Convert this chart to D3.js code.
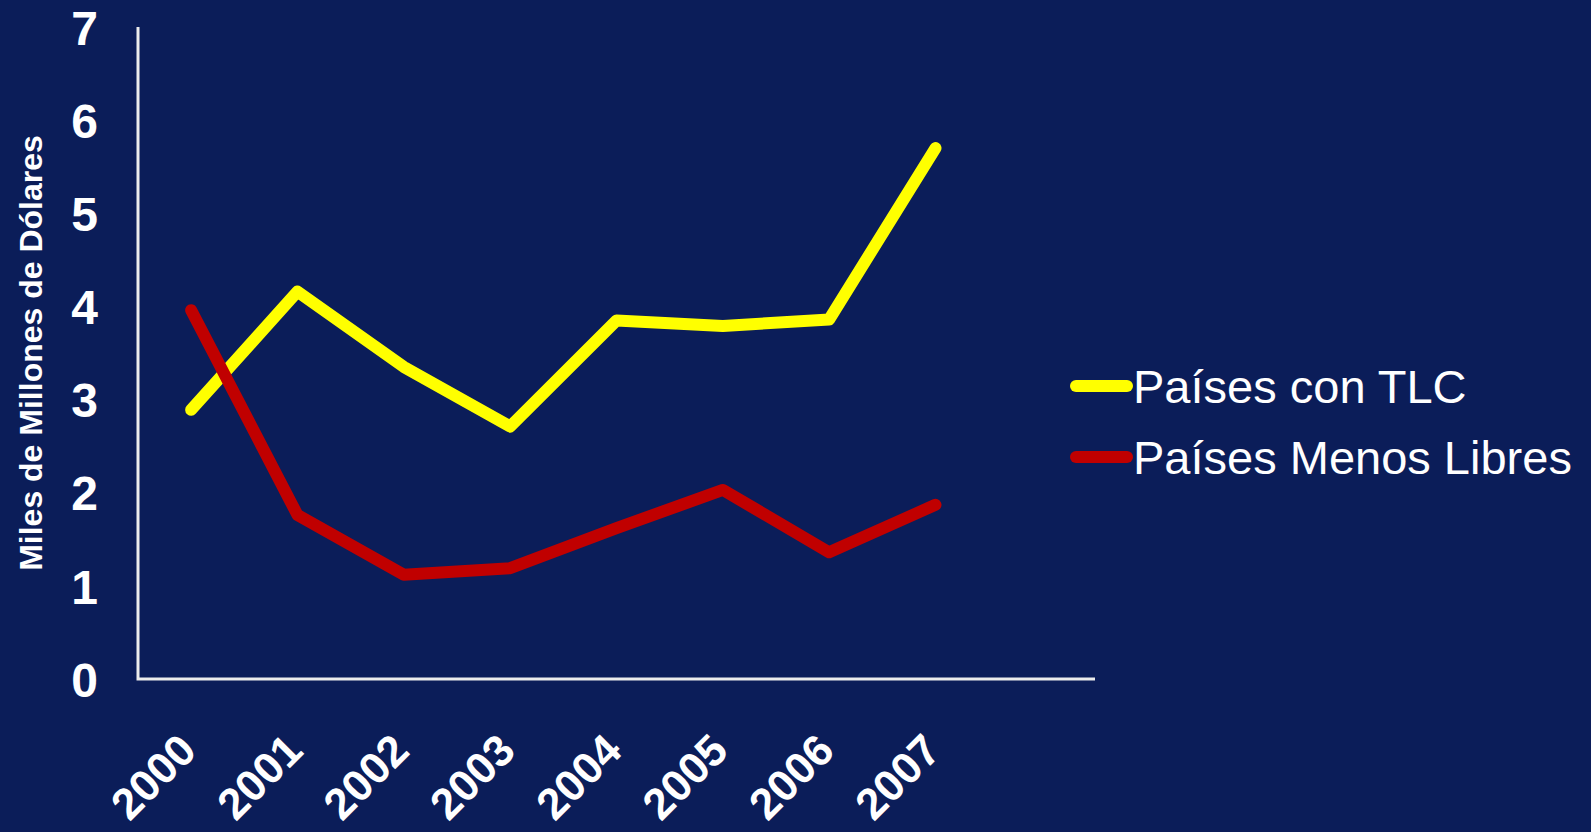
<!DOCTYPE html>
<html>
<head>
    <title>Países con TLC vs Países Menos Libres</title>
    <script src="https://d3js.org/d3.v7.min.js"></script>
    <style>
        body { margin: 0; background: #0b1d59; }
        svg { display: block; }
        text { font-family: "Liberation Sans", Arial, sans-serif; fill: #fff; }
    </style>
</head>
<body>
    <div id="chart"></div>

    <script>
        // Data
        const years = ["2000", "2001", "2002", "2003", "2004", "2005", "2006", "2007"];
        const paisesTLC = [2.89, 4.16, 3.35, 2.71, 3.85, 3.79, 3.86, 5.70];
        const paisesMenosLibres = [3.96, 1.76, 1.12, 1.19, 1.62, 2.03, 1.36, 1.87];
        const yTicks = [0, 1, 2, 3, 4, 5, 6, 7];
        const seriesNames = ["Países con TLC", "Países Menos Libres"];
        const seriesColors = ["#ffff00", "#c00000"];

        const width = 1591;
        const height = 832;
        const plotLeft = 138, plotRight = 1095, plotTop = 27, plotBottom = 679;

        const svg = d3.select("#chart")
            .append("svg")
            .attr("width", width)
            .attr("height", height);

        svg.append("rect")
            .attr("width", width)
            .attr("height", height)
            .attr("fill", "#0b1d59");

        // Scales (plot area holds 9 slots, 8 used)
        const step = (plotRight - plotLeft) / 9;
        const x = d3.scalePoint()
            .domain(years)
            .range([plotLeft + step / 2, plotLeft + step * 7.5]);

        const y = d3.scaleLinear()
            .domain([0, 7])
            .range([plotBottom, plotTop]);

        // Y axis
        const yAxis = svg.append("g")
            .attr("transform", "translate(" + plotLeft + ",0)")
            .call(d3.axisLeft(y).tickValues(yTicks).tickSize(0).tickPadding(40).tickFormat(d3.format("d")));
        yAxis.select(".domain").remove();
        yAxis.selectAll("text")
            .style("font-size", "48px")
            .style("font-weight", "bold")
            .attr("fill", "#fff")
            .attr("dy", "0.36em");

        // X axis labels
        const xAxis = svg.append("g")
            .attr("transform", "translate(0," + plotBottom + ")")
            .call(d3.axisBottom(x).tickSize(0));
        xAxis.select(".domain").remove();
        xAxis.selectAll("text")
            .attr("x", 0)
            .attr("y", 0)
            .attr("dy", 0)
            .attr("text-anchor", "end")
            .attr("transform", "translate(7,74) rotate(-45)")
            .attr("fill", "#fff")
            .style("font-size", "44px")
            .style("font-weight", "bold");

        // Axis lines
        svg.append("path")
            .attr("d", "M" + plotLeft + "," + plotTop + "V" + plotBottom + "H" + plotRight)
            .attr("fill", "none")
            .attr("stroke", "#ececec")
            .attr("stroke-width", 3);

        // Y axis title
        svg.append("text")
            .attr("transform", "translate(42," + ((plotTop + plotBottom) / 2) + ") rotate(-90)")
            .attr("text-anchor", "middle")
            .style("font-size", "32px")
            .style("font-weight", "bold")
            .text("Miles de Millones de Dólares");

        // Lines
        const line = d3.line()
            .x((d, i) => x(years[i]))
            .y(d => y(d));

        [paisesTLC, paisesMenosLibres].forEach(function(values, i) {
            svg.append("path")
                .datum(values)
                .attr("d", line)
                .attr("fill", "none")
                .attr("stroke", seriesColors[i])
                .attr("stroke-width", 12)
                .attr("stroke-linecap", "round")
                .attr("stroke-linejoin", "round");
        });

        // Legend
        const legend = svg.append("g")
            .attr("transform", "translate(1070,386)");

        const item = legend.selectAll("g")
            .data(seriesNames)
            .enter()
            .append("g")
            .attr("transform", (d, i) => "translate(0," + i * 71 + ")");

        item.append("line")
            .attr("x1", 6)
            .attr("x2", 57)
            .attr("stroke", (d, i) => seriesColors[i])
            .attr("stroke-width", 12)
            .attr("stroke-linecap", "round");

        item.append("text")
            .attr("x", 63)
            .attr("y", 17)
            .style("font-size", "47px")
            .text(d => d);
    </script>
</body>
</html>
